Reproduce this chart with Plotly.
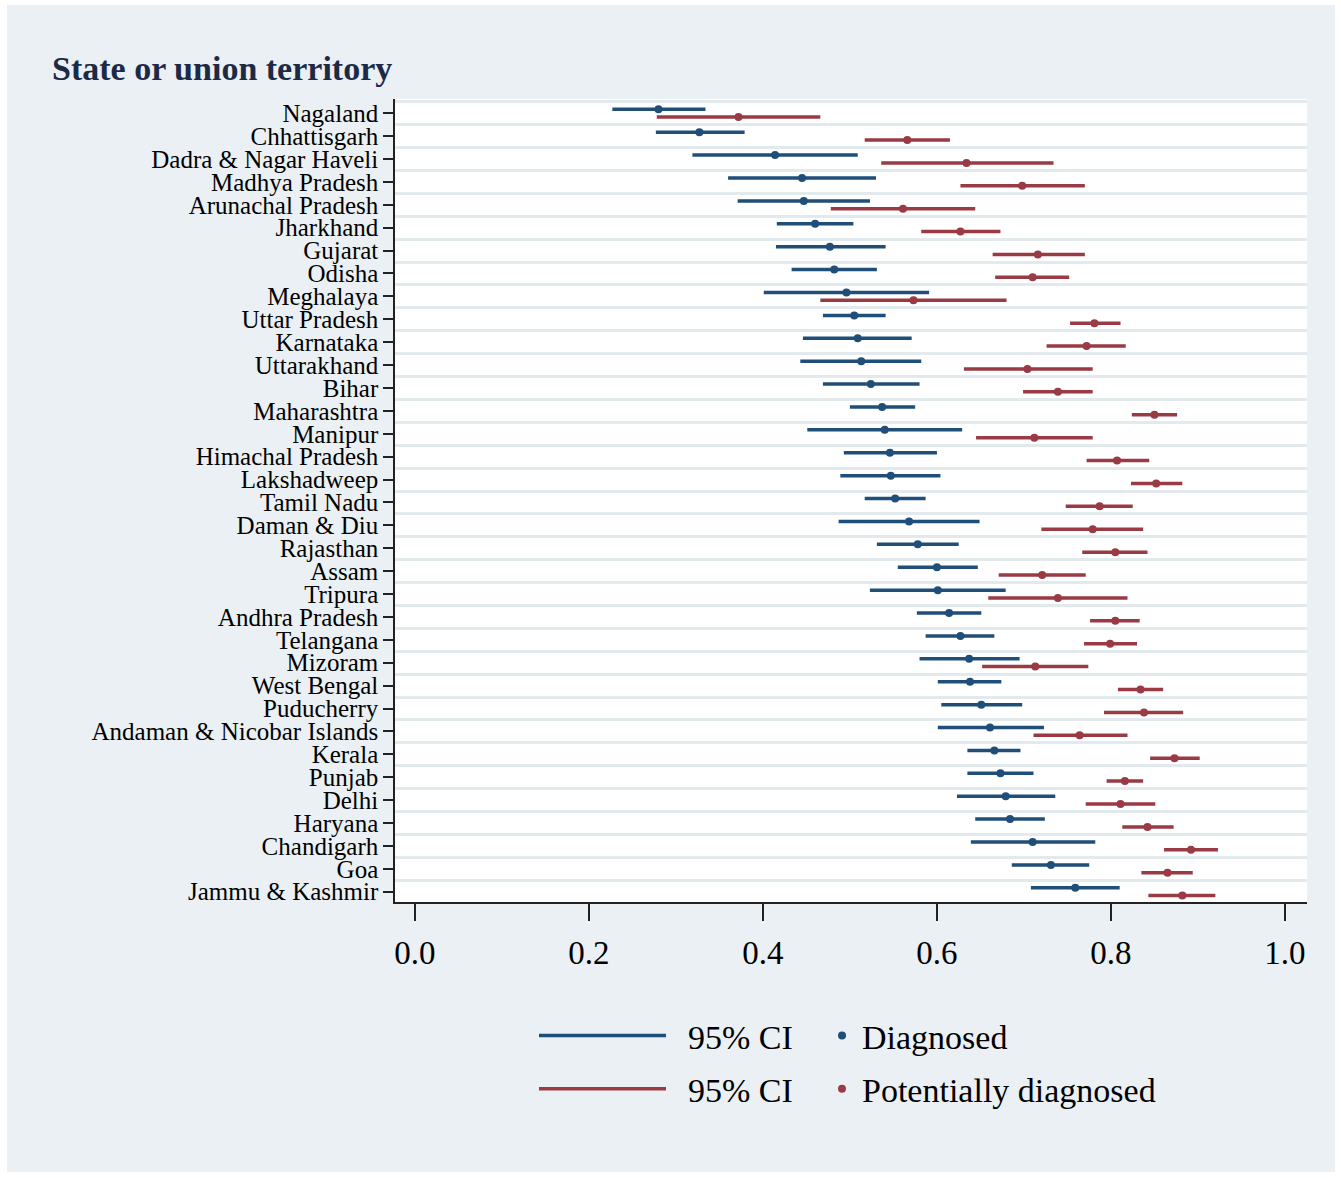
import numpy as np
import plotly.graph_objects as go

states = ["Nagaland", "Chhattisgarh", "Dadra & Nagar Haveli", "Madhya Pradesh", "Arunachal Pradesh",
          "Jharkhand", "Gujarat", "Odisha", "Meghalaya", "Uttar Pradesh", "Karnataka", "Uttarakhand",
          "Bihar", "Maharashtra", "Manipur", "Himachal Pradesh", "Lakshadweep", "Tamil Nadu",
          "Daman & Diu", "Rajasthan", "Assam", "Tripura", "Andhra Pradesh", "Telangana", "Mizoram",
          "West Bengal", "Puducherry", "Andaman & Nicobar Islands", "Kerala", "Punjab", "Delhi",
          "Haryana", "Chandigarh", "Goa", "Jammu & Kashmir"]

diag = [0.280, 0.327, 0.414, 0.445, 0.447, 0.460, 0.477, 0.482, 0.496, 0.505, 0.509, 0.513,
        0.524, 0.537, 0.540, 0.546, 0.547, 0.552, 0.568, 0.578, 0.600, 0.601, 0.614, 0.627,
        0.637, 0.638, 0.651, 0.661, 0.666, 0.673, 0.679, 0.684, 0.710, 0.731, 0.759]
diag_lo = [0.227, 0.277, 0.319, 0.360, 0.371, 0.416, 0.415, 0.433, 0.401, 0.469, 0.446, 0.443,
           0.469, 0.500, 0.451, 0.493, 0.489, 0.517, 0.487, 0.531, 0.555, 0.523, 0.577, 0.587,
           0.580, 0.601, 0.605, 0.601, 0.635, 0.635, 0.623, 0.644, 0.639, 0.686, 0.708]
diag_hi = [0.334, 0.379, 0.509, 0.530, 0.523, 0.504, 0.541, 0.531, 0.591, 0.541, 0.571, 0.582,
           0.580, 0.575, 0.629, 0.600, 0.604, 0.587, 0.649, 0.625, 0.647, 0.679, 0.651, 0.666,
           0.695, 0.674, 0.698, 0.723, 0.696, 0.711, 0.736, 0.724, 0.782, 0.775, 0.810]

pot = [0.372, 0.566, 0.634, 0.698, 0.561, 0.627, 0.716, 0.710, 0.573, 0.781, 0.772, 0.704,
       0.739, 0.850, 0.712, 0.807, 0.852, 0.787, 0.779, 0.805, 0.721, 0.739, 0.805, 0.799,
       0.713, 0.834, 0.838, 0.764, 0.873, 0.816, 0.811, 0.842, 0.892, 0.865, 0.882]
pot_lo = [0.278, 0.517, 0.536, 0.627, 0.478, 0.582, 0.664, 0.667, 0.466, 0.753, 0.726, 0.631,
          0.699, 0.824, 0.645, 0.772, 0.823, 0.748, 0.720, 0.767, 0.671, 0.659, 0.776, 0.769,
          0.652, 0.808, 0.792, 0.711, 0.845, 0.795, 0.771, 0.813, 0.861, 0.835, 0.843]
pot_hi = [0.466, 0.615, 0.734, 0.770, 0.644, 0.673, 0.770, 0.752, 0.680, 0.811, 0.817, 0.779,
          0.779, 0.876, 0.779, 0.844, 0.882, 0.825, 0.837, 0.842, 0.771, 0.819, 0.833, 0.830,
          0.774, 0.860, 0.883, 0.819, 0.902, 0.837, 0.851, 0.872, 0.923, 0.894, 0.920]

x_ticks = [0.0, 0.2, 0.4, 0.6, 0.8, 1.0]

BLUE = "#1f4e79"
RED = "#993a45"
FONT = "Liberation Serif"
NB = "\u00a0\u00a0"

idx = np.arange(len(states))
off = 0.17
y_blue = idx - off
y_red = idx + off


def segments(lo, hi, ys):
    xs, yy = [], []
    for a, b, y in zip(lo, hi, ys):
        xs += [a, b, None]
        yy += [y, y, None]
    return xs, yy


fig = go.Figure()
bx, by = segments(diag_lo, diag_hi, y_blue)
rx, ry = segments(pot_lo, pot_hi, y_red)
fig.add_trace(go.Scatter(x=bx, y=by, mode="lines", line=dict(color=BLUE, width=3.5),
                         name=NB + "95% CI", legend="legend", legendgroup="a", hoverinfo="skip"))
fig.add_trace(go.Scatter(x=rx, y=ry, mode="lines", line=dict(color=RED, width=3.5),
                         name=NB + "95% CI", legend="legend", legendgroup="b", hoverinfo="skip"))
fig.add_trace(go.Scatter(x=diag, y=y_blue, mode="markers", marker=dict(color=BLUE, size=8),
                         name="Diagnosed", legend="legend2", legendgroup="c"))
fig.add_trace(go.Scatter(x=pot, y=y_red, mode="markers", marker=dict(color=RED, size=8),
                         name="Potentially diagnosed", legend="legend2", legendgroup="d"))

W, H = 1341, 1178
L, R, T, B = 395, 34, 99, 276
pw = W - L - R
ph = H - T - B


def px_x(p):
    return (p - L) / pw


def px_y(p):
    return (H - B - p) / ph


fig.update_layout(
    width=W, height=H, autosize=False,
    margin=dict(l=L, r=R, t=T, b=B, pad=0),
    paper_bgcolor="white", plot_bgcolor="white",
    font=dict(family=FONT, color="black"),
    shapes=[
        dict(type="rect", xref="paper", yref="paper", layer="below",
             x0=px_x(7), x1=px_x(1335), y0=px_y(1172), y1=px_y(5),
             fillcolor="#eaf0f3", line=dict(width=0)),
        dict(type="rect", xref="paper", yref="paper", layer="below",
             x0=0, x1=1, y0=0, y1=1, fillcolor="white", line=dict(width=0)),
    ],
    annotations=[dict(text="<b>State or union territory</b>", xref="paper", yref="paper",
                      x=px_x(50), y=px_y(68), xanchor="left", yanchor="middle", showarrow=False,
                      font=dict(family=FONT, size=34, color="#1c2a48"))],
    legend=dict(x=px_x(534), y=px_y(1007), xanchor="left", yanchor="top",
                orientation="v", itemwidth=127, traceorder="grouped", tracegroupgap=6,
                font=dict(family=FONT, size=34, color="black"), bgcolor="rgba(0,0,0,0)"),
    legend2=dict(x=px_x(822), y=px_y(1007), xanchor="left", yanchor="top",
                 orientation="v", itemwidth=30, traceorder="grouped", tracegroupgap=6,
                 font=dict(family=FONT, size=34, color="black"), bgcolor="rgba(0,0,0,0)"),
    showlegend=True,
)

fig.update_xaxes(range=[-0.0228, 1.0253], tickmode="array", tickvals=x_ticks,
                 ticktext=[f"{v:.1f}" for v in x_ticks],
                 showline=True, linecolor="#222", linewidth=1.5, mirror=False,
                 ticks="outside", ticklen=17, tickwidth=1.5, tickcolor="#222",
                 ticklabelstandoff=4,
                 showgrid=False, zeroline=False,
                 tickfont=dict(family=FONT, size=33, color="black"))

fig.update_yaxes(range=[len(states) - 1 + 0.45, -0.62], tickmode="array", tickvals=idx,
                 ticktext=states, showline=True, linecolor="#222", linewidth=1.5,
                 ticks="outside", ticklen=10, tickwidth=1.5, tickcolor="#222",
                 showgrid=False, zeroline=False,
                 minor=dict(tickmode="array", tickvals=list(np.arange(-0.5, len(states), 1.0)),
                            showgrid=True, gridcolor="#e3eaed", gridwidth=3, ticks=""),
                 tickfont=dict(family=FONT, size=25, color="black"))

fig.write_html("out.html", config={"displayModeBar": False},
               post_script="document.body.style.margin='0px';")
